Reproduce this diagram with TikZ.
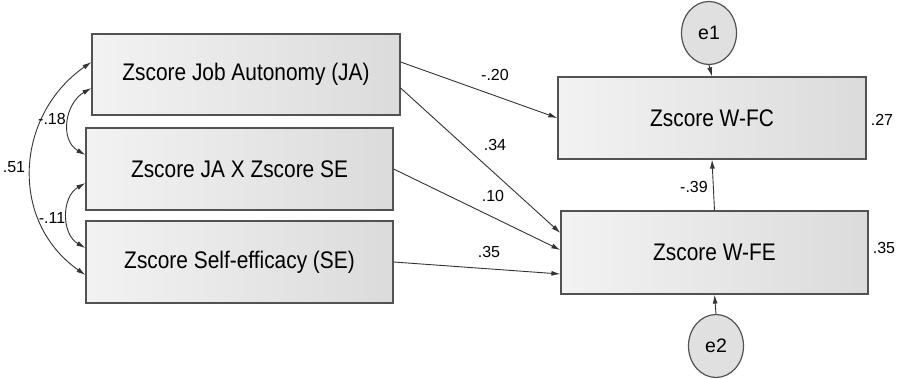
\documentclass[tikz,border=0pt]{standalone}
\usepackage{fontspec}
\setmainfont{Liberation Sans}
\newfontfamily\boxfont[FakeStretch=0.87]{Liberation Sans}
\usetikzlibrary{arrows.meta, shapes.geometric}

\begin{document}
\begin{tikzpicture}[x=1pt,y=1pt,
	var/.style={draw=black!68, line width=1.2pt, left color=black!5, right color=black!14, font=\boxfont\fontsize{24}{28}\selectfont},
	err/.style={ellipse, draw=black!68, line width=1.2pt, fill=black!12, minimum width=55pt, minimum height=63pt, inner sep=0pt, font=\fontsize{19.5}{24}\selectfont},
	regr/.style={draw=black!80, line width=0.9pt, -{Latex[length=9pt,width=5pt]}},
	cov/.style={draw=black!80, line width=0.9pt, {Latex[length=9pt,width=5pt]}-{Latex[length=9pt,width=5pt]}},
	coef/.style={font=\fontsize{16}{19}\selectfont}]
\useasboundingbox (0,0) rectangle (900,378);
\node[var, minimum width=308pt, minimum height=81pt] (ja) at (246,303.5) {Zscore Job Autonomy (JA)};
\node[var, minimum width=307pt, minimum height=82pt] (jase) at (239.5,209) {Zscore JA X Zscore SE};
\node[var, minimum width=307pt, minimum height=82pt] (se) at (239.5,116) {Zscore Self-efficacy (SE)};
\node[var, minimum width=308pt, minimum height=82pt] (wfc) at (712,260) {Zscore W-FC};
\node[var, minimum width=307pt, minimum height=83pt] (wfe) at (714.5,125.5) {Zscore W-FE};
\node[err] (e1) at (709,345) {e1};
\node[err] (e2) at (716,32) {e2};
\draw[regr] ([yshift=12.5]ja.east) -- (wfc.west);
\draw[regr] ([yshift=-13.5]ja.east) -- ([yshift=19.5]wfe.west);
\draw[regr] (jase.east) -- ([yshift=2.5]wfe.west);
\draw[regr] (se.east) -- ([yshift=-21.5]wfe.west);
\draw[regr] (wfe.north) -- (wfc.south);
\draw[regr] (e1.south) -- (wfc.north);
\draw[regr] (e2.north) -- (wfe.south);
\draw[cov] ([yshift=12.5]ja.west) to[out=215,in=145,looseness=1.12] ([yshift=-13]se.west);
\draw[cov] ([yshift=-13.5]ja.west) to[out=210,in=150,looseness=1.15] ([yshift=14]jase.west);
\draw[cov] ([yshift=-14]jase.west) to[out=210,in=150,looseness=1.1] ([yshift=14]se.west);
\node[coef] (b1) at (495,303) {-.20};
\node[coef] (b2) at (495,233) {.34};
\node[coef] (b3) at (493,182) {.10};
\node[coef] (b4) at (489,126) {.35};
\node[coef] (b5) at (694,191) {-.39};
\node[coef] (r1) at (882,258) {.27};
\node[coef] (r2) at (884,130) {.35};
\node[coef] (c1) at (14,211) {.51};
\node[coef] (c2) at (52,259) {-.18};
\node[coef] (c3) at (52,160) {-.11};
\end{tikzpicture}
\end{document}
